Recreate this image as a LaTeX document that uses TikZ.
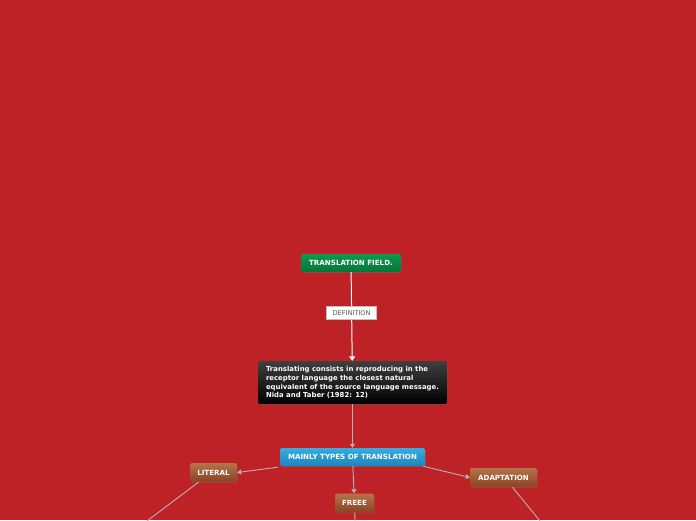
\documentclass[tikz,border=0pt]{standalone}
\usepackage{fontspec}
\setmainfont{DejaVu Sans}
\usepackage{tikz}
\usetikzlibrary{arrows.meta,shadows}

\definecolor{mapred}{HTML}{BE2227}
\definecolor{linkgray}{HTML}{B4B4B4}
\definecolor{greentop}{HTML}{0E9A4C}
\definecolor{greenbot}{HTML}{077538}
\definecolor{bluetop}{HTML}{38ACE0}
\definecolor{bluebot}{HTML}{1D84BD}
\definecolor{browntop}{HTML}{B4744C}
\definecolor{brownbot}{HTML}{8C421F}

\tikzset{
  topic/.style={rounded corners=1.5pt,font=\bfseries\fontsize{7.1}{8}\selectfont,text=white,
    inner xsep=0pt,inner ysep=0pt,minimum height=18pt,drop shadow={opacity=0.35,shadow xshift=0.6pt,shadow yshift=-0.8pt}},
  rootbox/.style={topic,top color=greentop,bottom color=greenbot},
  typebox/.style={topic,top color=bluetop,bottom color=bluebot},
  leafbox/.style={topic,top color=browntop,bottom color=brownbot,minimum height=19pt},
  notebox/.style={topic,top color=black!75,bottom color=black,align=left,
    font=\bfseries\fontsize{6.9}{8.7}\selectfont,minimum height=43pt,minimum width=189pt},
  link/.style={draw=linkgray,line width=0.9pt,-{Triangle[width=5pt,length=4pt]}},
  stub/.style={draw=linkgray,line width=0.9pt}
}

\begin{document}
\begin{tikzpicture}[x=1pt,y=-1pt]
    \fill[mapred] (0,0) rectangle (696,520);
    \useasboundingbox (0,0) rectangle (696,520);

    \node[rootbox,minimum width=100pt] (field) at (351,263) {TRANSLATION FIELD.};
    \node[notebox] (nida) at (352.5,382.5) {Translating consists in reproducing in the\\receptor language the closest natural\\equivalent of the source language message.\\Nida and Taber (1982: 12)};
    \node[typebox,minimum width=145pt] (types) at (352.5,457) {MAINLY TYPES OF TRANSLATION};
    \node[leafbox,minimum width=47pt] (literal) at (213.5,472.5) {LITERAL};
    \node[leafbox,minimum width=39pt] (freee) at (354.5,503) {FREEE};
    \node[leafbox,minimum width=67pt] (adapt) at (503.5,477.5) {ADAPTATION};

    % ends of the links that run out of the picture
    \coordinate (literalend) at (147,521);
    \coordinate (freeeend) at (355,521);
    \coordinate (adaptend) at (540,521);

    \path[draw=white,line width=1pt,-{Triangle[width=6pt,length=4.5pt]}] (field) -- node[pos=0.46,fill=white,draw=black!25,line width=0.3pt,
      text=black!65,font=\fontsize{6.6}{7}\selectfont,inner xsep=0pt,inner ysep=0pt,minimum width=50pt,minimum height=13pt] {DEFINITION} (nida);
    \path[link] (nida) -- (types);
    \path[link] (types.south west) ++(-2pt,-1pt) coordinate (tl) (tl) -- (literal.east);
    \path[link] (types.south east) ++(-2pt,0) coordinate (tr) (tr) -- (adapt.west);
    \path[link] (types) -- (freee);

    \path[stub] (literal.south) ++(-15pt,0) coordinate (ls) (ls) -- (literalend);
    \path[stub] (freee) -- (freeeend);
    \path[stub] (adapt.south) ++(9pt,0) coordinate (as) (as) -- (adaptend);
  \end{tikzpicture}
\end{document}
